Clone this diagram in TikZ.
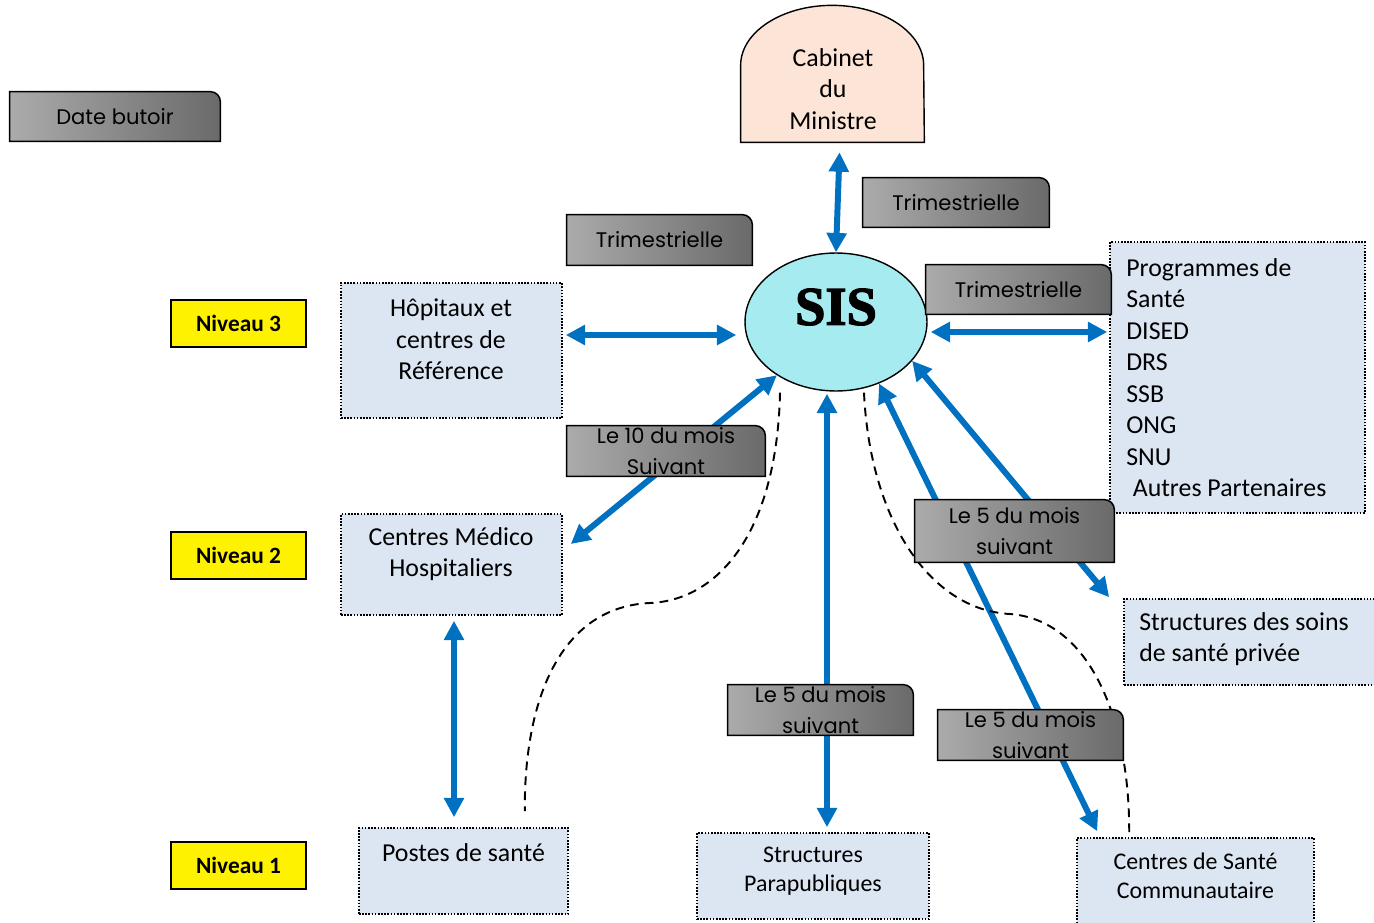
\documentclass[tikz,border=0pt]{standalone}
\usepackage{fontspec}
\setmainfont{Carlito}
\newfontfamily\tagfont{Poppins}
\newfontfamily\sisfont[FakeBold=2.5]{Liberation Serif}
\usetikzlibrary{arrows.meta}
\usetikzlibrary{fit}
\usetikzlibrary{shapes.geometric}

\definecolor{flowblue}{HTML}{0070C0}
\definecolor{unitfill}{HTML}{DCE6F2}
\definecolor{cabfill}{HTML}{FCE4D6}
\definecolor{sisfill}{HTML}{A6EBF0}
\definecolor{tagl}{HTML}{ABABAB}
\definecolor{tagr}{HTML}{6A6A6A}

\tikzset{
  unitbox/.style={draw=black, line width=0.9pt, dash pattern=on 0.9pt off 0.9pt, fill=unitfill, inner sep=0pt},
  unittext/.style={font=\fontsize{14.7}{17.9}\selectfont, align=center, inner sep=0pt},
  smalltext/.style={font=\fontsize{13.6}{16.4}\selectfont, align=center, inner sep=0pt},
  levelbox/.style={draw=black, line width=1.2pt, fill=yellow, inner sep=0pt, minimum width=2.7cm, minimum height=0.94cm,
    font=\bfseries\fontsize{13.3}{16}\selectfont},
  tagshape/.style={draw=black, line width=0.85pt, left color=tagl, right color=tagr},
  tagtext/.style={font=\tagfont\fontsize{12}{17.6}\selectfont, align=center, inner sep=0pt},
  sisnode/.style={ellipse, draw=black, line width=0.8pt, fill=sisfill, minimum width=3.64cm, minimum height=2.76cm, inner sep=0pt},
  flow/.style={draw=flowblue, line width=3.4pt, <->},
  link/.style={draw=black, line width=1.1pt, dash pattern=on 5pt off 3.5pt}
}

% gray deadline tag, rounded at the top right: name, upper-left, lower-right, text
\newcommand{\deadline}[4]{%
  \node[fit={#2 #3}, inner sep=0pt] (#1) {};
  \draw[tagshape] (#1.south west) -- (#1.north west) -- ([shift={(-10,0)}]#1.north east)
    arc[start angle=90, end angle=0, radius=10] -- (#1.south east) -- cycle;
  \node[tagtext] (#1-t) at (#1.center) {#4};
}

\begin{document}
\begin{tikzpicture}[x=0.02cm, y=0.02cm, >={Triangle[length=11pt, width=11pt]}]

\useasboundingbox (0,0) rectangle (1374,-923);

% --- Cabinet and SIS ---
\node[fit={(741,-5) (924,-142)}, inner sep=0pt] (cab) {};
\filldraw[draw=black, line width=0.8pt, fill=cabfill] (cab.south west) -- ++(0,77)
  arc[start angle=180, end angle=0, x radius=91.5, y radius=60] -- (cab.south east) -- cycle;
\node[unittext, font=\fontsize{14.7}{18.1}\selectfont] (cab-t) at (833,-89) {Cabinet\\du\\Ministre};

\node[sisnode] (sis) at (836,-322) {};
\node[font=\sisfont\bfseries\fontsize{31}{31}\selectfont, inner sep=0pt] (sis-t) at (836,-307) {SIS};

% --- Levels ---
\node[levelbox] (niv3) at (238.5,-323.5) {Niveau 3};
\node[levelbox] (niv2) at (238.5,-555.5) {Niveau 2};
\node[levelbox] (niv1) at (238.5,-865.5) {Niveau 1};

% --- Structures ---
\node[unitbox, fit={(341,-283) (562,-418)}] (hop) {};
\node[unittext] (hop-t) at (451,-339.5) {Hôpitaux et\\centres de\\Référence};

\node[unitbox, fit={(341,-514) (562,-615)}] (cmh) {};
\node[unittext] (cmh-t) at (451,-554) {Centres Médico\\Hospitaliers};

\node[unitbox, fit={(359,-828) (568,-914)}] (postes) {};
\node[unittext] (postes-t) at (463.5,-853) {Postes de santé};

\node[unitbox, fit={(697,-833) (929,-919)}] (para) {};
\node[smalltext] (para-t) at (813,-871.5) {Structures\\Parapubliques};

\node[unitbox, fit={(1077,-838) (1314,-935)}] (csc) {};
\node[smalltext] (csc-t) at (1195.5,-875.5) {Centres de Santé\\Communautaire};

\node[unitbox, fit={(1124,-599) (1385,-685)}] (priv) {};
\node[unittext, align=left, anchor=west] (priv-t) at (1139,-639) {Structures des soins\\de santé privée};

\node[unitbox, fit={(1110,-242) (1365,-513)}] (prog) {};
\node[unittext, align=left, anchor=west] (prog-t) at (1126,-377.5)
  {Programmes de\\Santé\\DISED\\DRS\\SSB\\ONG\\SNU\\\hspace{0.25em}Autres Partenaires};

% --- Flows ---
\draw[flow] ([shift={(7,-10)}]cab.south) -- (sis.north);
\draw[flow] ([shift={(3,15.5)}]hop.east) -- ([shift={(-8,-13)}]sis.west);
\draw[flow] ([shift={(3,-10)}]sis.east) -- ([shift={(-2,45.5)}]prog.west);
\draw[flow] (sis.222) -- ([shift={(8,20.5)}]cmh.east);
\draw[flow] ([shift={(-9,-2)}]sis.south) -- ([shift={(14,5)}]para.north);
\draw[flow] (sis.305) -- ([shift={(21,6)}]csc.north west);
\draw[flow] (sis.333) -- ([shift={(-14,1)}]priv.north west);
\draw[flow] ([shift={(2.5,-5)}]cmh.south) -- ([shift={(-9.5,10)}]postes.north);

% --- Dashed links ---
\draw[link] ([shift={(-56,-1)}]sis.south) .. controls (777,-530) and (720,-600) .. (650,-603)
  .. controls (560,-607) and (524,-700) .. ([shift={(-44,16)}]postes.north east);
\draw[link] ([shift={(28,-1)}]sis.south) .. controls (870,-520) and (930,-610) .. (1010,-614)
  .. controls (1090,-620) and (1130,-720) .. ([shift={(53,3)}]csc.north west);

% --- Deadlines ---
\deadline{tagdate}{(10,-92)}{(220,-141)}{Date butoir}
\deadline{tagcab}{(863,-178)}{(1049,-227)}{Trimestrielle}
\deadline{taghop}{(567,-215)}{(752,-265)}{Trimestrielle}
\deadline{tagprog}{(926,-265)}{(1111,-314)}{Trimestrielle}
\deadline{tagcmh}{(567,-426)}{(765,-476)}{Le 10 du mois\\Suivant}
\deadline{tagpriv}{(915,-500)}{(1114,-562)}{Le 5 du mois\\suivant}
\deadline{tagpara}{(728,-685)}{(913,-735)}{Le 5 du mois\\suivant}
\deadline{tagcsc}{(938,-710)}{(1123,-760)}{Le 5 du mois\\suivant}

\end{tikzpicture}
\end{document}
